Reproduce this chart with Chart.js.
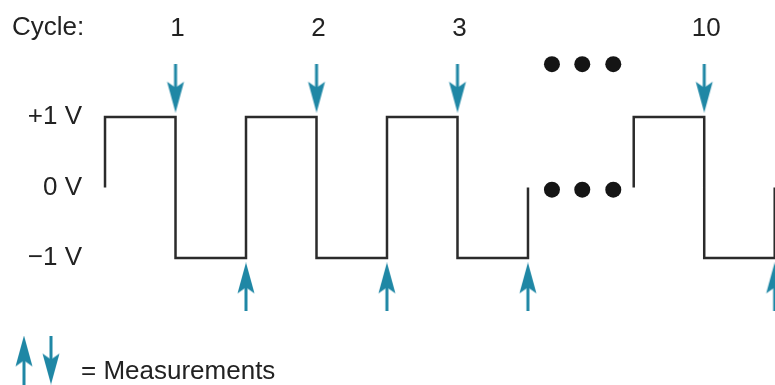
<!DOCTYPE html>
<html>
<head>
<meta charset="utf-8">
<script src="https://cdn.jsdelivr.net/npm/chart.js@4/dist/chart.umd.min.js"></script>
<style>
  html, body { margin: 0; padding: 0; background: #fff; }
  #wrap { width: 775px; height: 385px; position: relative; }
</style>
</head>
<body>
<div id="wrap"><canvas id="waveChart"></canvas></div>
<script>
// square wave: edge times (half cycles) and the level before/after each edge
var edgesA = [0, 1, 2, 3, 4, 5, 6];
var levelsA = [0, 1, -1, 1, -1, 1, -1, 0];
var edgesB = [7.5, 8.5, 9.5];
var levelsB = [0, 1, -1, 0];

// measurement arrows
var downArrowX = [1, 3, 5, 8.5];
var upArrowX = [2, 4, 6, 9.5];

// cycle labels above the down arrows
var cycleLabels = ["1", "2", "3", "10"];

// ellipsis dots
var dotsX = [6.34, 6.77, 7.21];
var dotRowsY = [1.75, -0.03];

// y axis
var yTicks = [1, 0, -1];
var yLabels = ["+1 V", "0 V", "\u22121 V"];

var lineColor = "#2b2b2b";
var arrowColor = "#1f87a5";
var textColor = "#222";
var fontFamily = "'Liberation Sans', Arial, sans-serif";
var arrowOffset = 0.41;

function wavePoints(edges, levels) {
    var pts = [];
    for (var i = 0; i < edges.length; i++) {
        pts.push({x: edges[i], y: levels[i]});
        pts.push({x: edges[i], y: levels[i + 1]});
    }
    return pts;
}

// arrow glyph pointing down, used as point style
function makeArrow() {
    var c = document.createElement("canvas");
    var w = 20, h = 49, cx = w / 2;
    c.width = w;
    c.height = h;
    var g = c.getContext("2d");
    g.fillStyle = arrowColor;
    g.fillRect(cx - 1.5, 0, 3, h - 22);
    g.beginPath();
    g.moveTo(cx, h);
    g.lineTo(cx - 8.5, h - 31);
    g.lineTo(cx, h - 25);
    g.lineTo(cx + 8.5, h - 31);
    g.closePath();
    g.fill();
    return c;
}
var arrowImg = makeArrow();

var dotData = [];
dotRowsY.forEach(function(y) {
    dotsX.forEach(function(x) { dotData.push({x: x, y: y}); });
});

var labelPlugin = {
    id: "labels",
    afterDraw: function(chart) {
        var ctx = chart.ctx;
        var xs = chart.scales.x;
        ctx.save();
        ctx.fillStyle = textColor;
        ctx.font = "26px " + fontFamily;
        ctx.textBaseline = "middle";
        ctx.textAlign = "left";
        ctx.fillText("Cycle:", 12, 28);
        ctx.textAlign = "center";
        downArrowX.forEach(function(x, i) {
            ctx.fillText(cycleLabels[i], xs.getPixelForValue(x) + 2, 29);
        });
        // legend
        ctx.save();
        ctx.translate(24, 360);
        ctx.rotate(Math.PI);
        ctx.drawImage(arrowImg, -arrowImg.width / 2, -arrowImg.height / 2);
        ctx.restore();
        ctx.drawImage(arrowImg, 51 - arrowImg.width / 2, 360 - arrowImg.height / 2);
        ctx.textAlign = "left";
        ctx.fillText("= Measurements", 81, 372);
        ctx.restore();
    }
};

new Chart(document.getElementById("waveChart"), {
    type: "scatter",
    data: {
        datasets: [
            {
                data: wavePoints(edgesA, levelsA),
                showLine: true,
                borderColor: lineColor,
                borderWidth: 2.5,
                borderJoinStyle: "miter",
                pointRadius: 0
            },
            {
                data: wavePoints(edgesB, levelsB),
                showLine: true,
                borderColor: lineColor,
                borderWidth: 2.5,
                borderJoinStyle: "miter",
                pointRadius: 0,
                clip: false
            },
            {
                data: downArrowX.map(function(x) { return {x: x, y: 1 + arrowOffset}; }),
                pointStyle: arrowImg,
                pointRotation: 0
            },
            {
                data: upArrowX.map(function(x) { return {x: x, y: -1 - arrowOffset}; }),
                pointStyle: arrowImg,
                pointRotation: 180,
                clip: false
            },
            {
                data: dotData,
                pointRadius: 8,
                pointBackgroundColor: "#151515",
                pointBorderWidth: 0
            }
        ]
    },
    options: {
        responsive: true,
        maintainAspectRatio: false,
        animation: false,
        events: [],
        layout: { padding: 0, autoPadding: false },
        plugins: {
            legend: { display: false },
            tooltip: { enabled: false }
        },
        scales: {
            x: {
                type: "linear",
                display: false,
                min: -0.213,
                max: 9.504
            },
            y: {
                type: "linear",
                min: -2.80,
                max: 2.66,
                grid: { display: false, drawTicks: false },
                border: { display: false },
                afterBuildTicks: function(axis) {
                    axis.ticks = yTicks.map(function(v) { return {value: v}; });
                },
                afterFit: function(axis) {
                    axis.width = 90;
                    axis.paddingTop = 0;
                    axis.paddingBottom = 0;
                },
                ticks: {
                    padding: 8,
                    color: textColor,
                    font: { size: 26, family: fontFamily },
                    callback: function(value) {
                        return yLabels[yTicks.indexOf(value)];
                    }
                }
            }
        }
    },
    plugins: [labelPlugin]
});
</script>
</body>
</html>
